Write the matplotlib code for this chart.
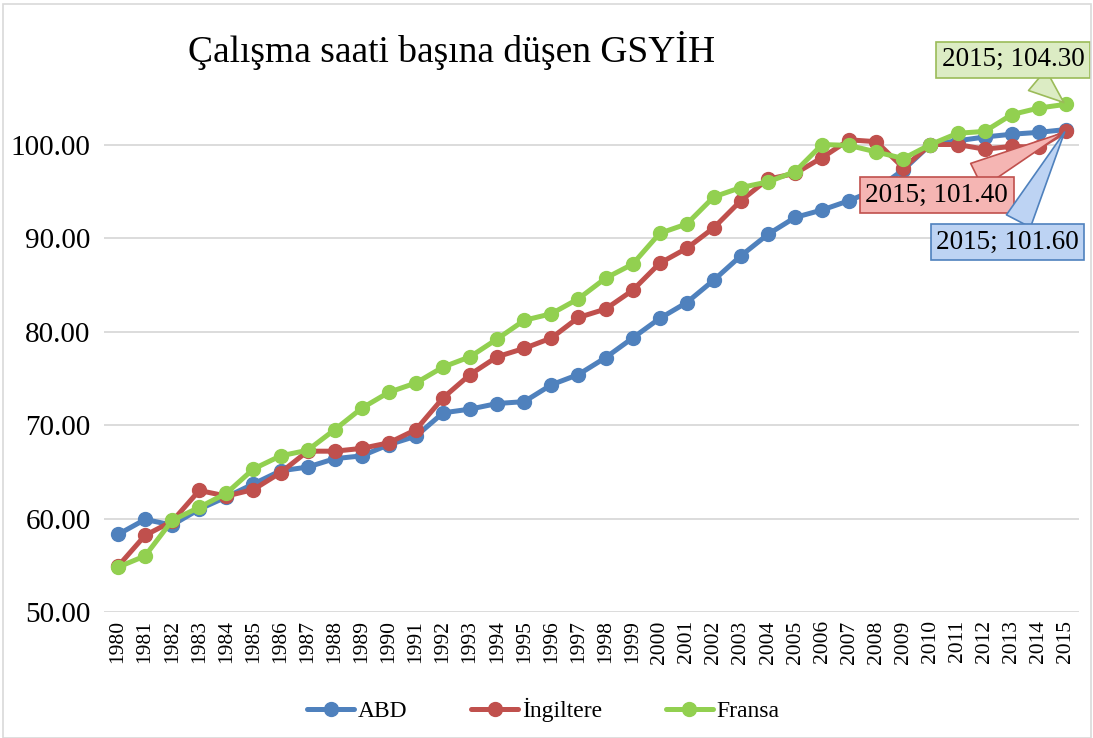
import matplotlib
matplotlib.use("Agg")
import matplotlib.pyplot as plt
from matplotlib.patches import Rectangle

plt.rcParams['font.family'] = ['Liberation Serif', 'DejaVu Serif']

years = list(range(1980, 2016))
abd = [58.3, 59.9, 59.3, 61.0, 62.3, 63.7, 65.1, 65.5, 66.4, 66.7, 67.9, 68.8,
       71.3, 71.7, 72.3, 72.5, 74.3, 75.4, 77.2, 79.3, 81.4, 83.1, 85.5, 88.1,
       90.4, 92.2, 93.0, 94.0, 95.2, 97.3, 100.0, 100.4, 100.8, 101.1, 101.3, 101.6]
ingiltere = [54.9, 58.2, 59.7, 63.0, 62.4, 63.1, 64.9, 67.2, 67.2, 67.5, 68.1, 69.5,
             72.9, 75.4, 77.3, 78.2, 79.3, 81.5, 82.4, 84.4, 87.3, 88.9, 91.1, 94.0,
             96.3, 96.9, 98.6, 100.5, 100.3, 97.5, 100.0, 100.0, 99.5, 99.8, 99.7, 101.4]
fransa = [54.8, 56.0, 59.8, 61.2, 62.7, 65.3, 66.7, 67.3, 69.5, 71.8, 73.5, 74.5,
          76.2, 77.3, 79.2, 81.2, 81.9, 83.5, 85.7, 87.2, 90.5, 91.5, 94.4, 95.4,
          96.0, 97.1, 100.0, 99.9, 99.2, 98.5, 100.0, 101.2, 101.4, 103.2, 103.9, 104.3]
series_names = ["ABD", "İngiltere", "Fransa"]
colors = ["#4f81bd", "#c0504d", "#92d050"]
yticks = [50, 60, 70, 80, 90, 100]

fig = plt.figure(figsize=(10.93, 7.38), dpi=100)
ax = fig.add_axes([0.0956, 0.1707, 0.892, 0.7602])

for vals, name, c in zip([abd, ingiltere, fransa], series_names, colors):
    ax.plot(years, vals, color=c, lw=3.6, marker='o', ms=10, label=name,
            solid_capstyle='round')

ax.set_xlim(1979.5, 2015.5)
ax.set_ylim(50, 110)
ax.set_yticks(yticks)
ax.set_yticklabels([f"{v:.2f}" for v in yticks], fontsize=21)
ax.set_xticks(years)
ax.set_xticklabels([str(y) for y in years], rotation=90, fontsize=15.5)
ax.tick_params(length=0, pad=10)
ax.tick_params(axis='x', pad=6)
ax.grid(axis='y', color='#d9d9d9', lw=1.3)
ax.set_axisbelow(True)
for s in ax.spines.values():
    s.set_visible(False)

# callout labels for last points
callouts = [
    (fransa[-1], (-38, 32), '#dcecc4', '#9bbb59'),
    (ingiltere[-1], (-93, -46), '#f5b5b3', '#c0504d'),
    (abd[-1], (-42, -81), '#bdd3f3', '#4f81bd'),
]
for val, off, fc, ec in callouts:
    ax.annotate(f"{years[-1]}; {val:.2f}", xy=(years[-1], val), xytext=off,
                textcoords='offset points', ha='center', va='center', fontsize=19.5,
                bbox=dict(boxstyle='square,pad=0.2', fc=fc, ec=ec, lw=1.2),
                arrowprops=dict(arrowstyle='wedge,tail_width=1.0,shrink_factor=0.5',
                                fc=fc, ec=ec, lw=1.2),
                zorder=10)

fig.text(188 / 1093, 1 - 50 / 738, "Çalışma saati başına düşen GSYİH",
         fontsize=27, ha='left', va='center')

fig.legend(loc='center', bbox_to_anchor=(0.497, 0.038), ncol=3, frameon=False,
           fontsize=17, handlelength=2.0, columnspacing=2.7, handletextpad=0.15)

fig.patches.append(Rectangle((3 / 1093, 0), 1088 / 1093, 1 - 4 / 738,
                             transform=fig.transFigure, fill=False,
                             ec='#d9d9d9', lw=1.2))

fig.savefig("out.png", dpi=100)
